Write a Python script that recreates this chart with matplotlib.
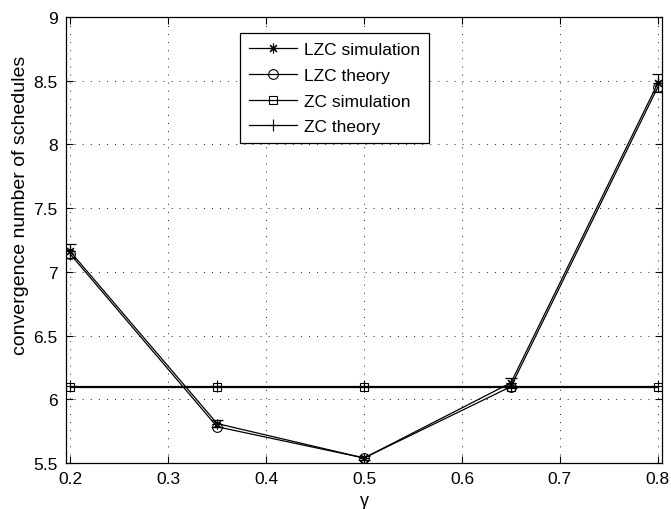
import matplotlib
matplotlib.use("Agg")
import matplotlib.pyplot as plt

gamma = [0.2, 0.35, 0.5, 0.65, 0.8]
lzc_sim = [7.16, 5.81, 5.54, 6.13, 8.48]
lzc_sim_err = [0.055, 0.03, 0.015, 0.04, 0.07]
lzc_theory = [7.14, 5.785, 5.54, 6.10, 8.45]
zc_sim = [6.10, 6.10, 6.10, 6.10, 6.10]
zc_theory = [6.105, 6.105, 6.105, 6.105, 6.105]

xticks = [0.2, 0.3, 0.4, 0.5, 0.6, 0.7, 0.8]
yticks = [5.5, 6, 6.5, 7, 7.5, 8, 8.5, 9]

plt.rcParams['font.family'] = ['Liberation Sans', 'DejaVu Sans']
plt.rcParams['font.size'] = 12.5

fig = plt.figure(figsize=(6.71, 5.10), dpi=100)
ax = fig.add_axes([0.098, 0.090, 0.889, 0.875])

lw = 0.9
ms = 7
ast = (8, 2, 0)
ax.errorbar(gamma, lzc_sim, yerr=lzc_sim_err, color='black', lw=0, fmt='none',
            capsize=4, elinewidth=lw, capthick=lw)
h1, = ax.plot(gamma, lzc_sim, color='black', lw=lw, marker=ast, ms=ms,
              mec='black', mew=0.8, label='LZC simulation')
h2, = ax.plot(gamma, lzc_theory, color='black', lw=lw, marker='o', ms=ms, mfc='none',
              mec='black', mew=0.8, label='LZC theory')
h3, = ax.plot(gamma, zc_sim, color='black', lw=lw, marker='s', ms=ms - 1, mfc='none',
              mec='black', mew=0.8, label='ZC simulation')
h4, = ax.plot(gamma, zc_theory, color='black', lw=lw, marker='+', ms=ms + 1, mfc='none',
              mec='black', mew=0.8, label='ZC theory')

ax.set_xlim(0.1955, 0.8045)
ax.set_ylim(5.5, 9)
ax.set_xticks(xticks)
ax.set_xticklabels([f"{t:g}" for t in xticks])
ax.set_yticks(yticks)
ax.set_yticklabels([f"{t:g}" for t in yticks])
ax.grid(True, color='black', linestyle=(0, (1.2, 8.5)), linewidth=0.6)
ax.tick_params(direction='in', top=True, right=True, length=5, width=0.8, pad=6)
for s in ax.spines.values():
    s.set_linewidth(0.9)

ax.set_xlabel('γ', labelpad=4, fontsize=13)
ax.set_ylabel('convergence number of schedules', fontsize=14)
ax.yaxis.set_label_coords(-0.062, 0.58)

leg = ax.legend(handles=[h1, h2, h3, h4], loc='upper left',
                bbox_to_anchor=(0.292, 0.964), frameon=True,
                fancybox=False, edgecolor='black', framealpha=1, handlelength=2.8,
                handletextpad=0.4, borderpad=0.5, labelspacing=0.62, borderaxespad=0,
                fontsize=12.5)
leg.get_frame().set_linewidth(0.9)

fig.savefig('out.png', dpi=100)
